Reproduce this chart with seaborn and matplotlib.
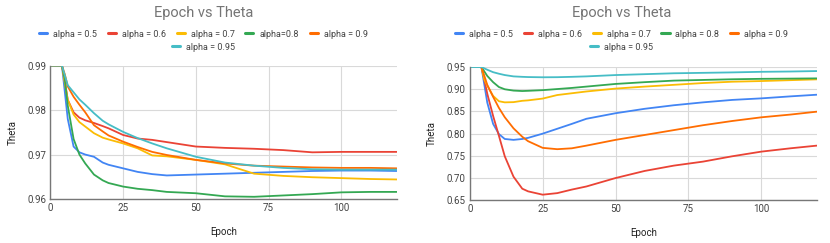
import matplotlib
matplotlib.use("Agg")
import matplotlib.pyplot as plt
from matplotlib.lines import Line2D
import seaborn as sns
import pandas as pd

# ---------------- data ----------------
epochs = [0, 4, 5, 6, 8, 10, 12, 15, 18, 20, 25, 30, 35, 40, 50, 60, 70, 80, 90, 100, 110, 119]

left_labels = ["alpha = 0.5", "alpha = 0.6", "alpha = 0.7", "alpha=0.8", "alpha = 0.9", "alpha = 0.95"]
right_labels = ["alpha = 0.5", "alpha = 0.6", "alpha = 0.7", "alpha = 0.8", "alpha = 0.9", "alpha = 0.95"]

left_a05 = [0.99, 0.99, 0.984, 0.978, 0.9718, 0.9705, 0.9700, 0.9695, 0.9682, 0.9677, 0.9669, 0.9661, 0.9656, 0.9653, 0.9655, 0.9657, 0.9659, 0.9661, 0.9663, 0.9664, 0.9664, 0.9663]
left_a06 = [0.99, 0.99, 0.9865, 0.9823, 0.9795, 0.9783, 0.9777, 0.9771, 0.9764, 0.9759, 0.9744, 0.9736, 0.9733, 0.9728, 0.9718, 0.9715, 0.9713, 0.9710, 0.9705, 0.9706, 0.9706, 0.9706]
left_a07 = [0.99, 0.99, 0.986, 0.9823, 0.979, 0.9773, 0.9763, 0.9748, 0.9738, 0.9734, 0.9725, 0.9714, 0.9698, 0.9696, 0.9688, 0.9678, 0.9657, 0.9652, 0.9649, 0.9647, 0.9645, 0.9644]
left_a08 = [0.99, 0.99, 0.9868, 0.981, 0.9735, 0.970, 0.968, 0.9655, 0.9642, 0.9636, 0.9628, 0.9623, 0.9620, 0.9616, 0.9613, 0.9606, 0.9605, 0.9608, 0.9611, 0.9615, 0.9616, 0.9616]
left_a09 = [0.99, 0.99, 0.988, 0.9853, 0.983, 0.9812, 0.9795, 0.9766, 0.9752, 0.9743, 0.9729, 0.9717, 0.9706, 0.9699, 0.9688, 0.9680, 0.9675, 0.9673, 0.9671, 0.9670, 0.9670, 0.9669]
left_a095 = [0.99, 0.99, 0.9878, 0.9856, 0.984, 0.9824, 0.9812, 0.9793, 0.9776, 0.9768, 0.9751, 0.9737, 0.9725, 0.9714, 0.9695, 0.9682, 0.9675, 0.9670, 0.9667, 0.9666, 0.9666, 0.9666]

right_a05 = [0.95, 0.95, 0.91, 0.87, 0.822, 0.799, 0.788, 0.786, 0.788, 0.7905, 0.800, 0.811, 0.822, 0.8335, 0.846, 0.856, 0.864, 0.8705, 0.876, 0.8795, 0.884, 0.8877]
right_a06 = [0.95, 0.95, 0.921, 0.89, 0.84, 0.795, 0.749, 0.703, 0.676, 0.670, 0.6625, 0.666, 0.674, 0.681, 0.700, 0.716, 0.728, 0.737, 0.749, 0.7595, 0.767, 0.773]
right_a07 = [0.95, 0.95, 0.922, 0.908, 0.885, 0.873, 0.8705, 0.871, 0.874, 0.875, 0.879, 0.887, 0.891, 0.895, 0.9015, 0.906, 0.910, 0.914, 0.917, 0.9185, 0.9205, 0.9223]
right_a08 = [0.95, 0.95, 0.94, 0.93, 0.916, 0.905, 0.900, 0.897, 0.896, 0.8965, 0.898, 0.9005, 0.903, 0.906, 0.912, 0.916, 0.9195, 0.921, 0.9225, 0.9235, 0.924, 0.9245]
right_a09 = [0.95, 0.95, 0.93, 0.91, 0.883, 0.858, 0.837, 0.812, 0.793, 0.783, 0.768, 0.765, 0.767, 0.773, 0.786, 0.797, 0.808, 0.819, 0.8285, 0.8368, 0.843, 0.8495]
right_a095 = [0.95, 0.95, 0.947, 0.944, 0.9385, 0.935, 0.932, 0.929, 0.928, 0.9275, 0.927, 0.9272, 0.928, 0.929, 0.932, 0.934, 0.936, 0.937, 0.938, 0.9393, 0.940, 0.941]

left_yticks = [0.96, 0.97, 0.98, 0.99]
right_yticks = [0.65, 0.70, 0.75, 0.80, 0.85, 0.90, 0.95]
xticks = [0, 25, 50, 75, 100]

colors = ["#4285F4", "#EA4335", "#FBBC04", "#34A853", "#FF6D01", "#46BDC6"]

# ---------------- style ----------------
sns.set_theme(style="white")
plt.rcParams["font.family"] = ["Roboto", "DejaVu Sans"]

fig = plt.figure(figsize=(8.3, 2.43), dpi=100)
ax1 = fig.add_axes([0.0606, 0.181, 0.4174, 0.549])
ax2 = fig.add_axes([0.566, 0.176, 0.418, 0.548])


def build(series, labels):
    rows = []
    for vals, lab in zip(series, labels):
        for e, v in zip(epochs, vals):
            rows.append({"Epoch": e, "Theta": v, "series": lab})
    return pd.DataFrame(rows)


def draw(ax, df, labels, yticks, ylim, cx):
    sns.lineplot(data=df, x="Epoch", y="Theta", hue="series", hue_order=labels,
                 palette=colors, ax=ax, legend=False, linewidth=1.3)
    ax.set_xlim(0, 119)
    ax.set_ylim(*ylim)
    ax.set_xticks(xticks)
    ax.set_yticks(yticks)
    ax.set_yticklabels([f"{t:.2f}" for t in yticks])
    ax.grid(True, color="#d9d9d9", linewidth=0.8)
    ax.set_axisbelow(True)
    for s in ["top", "right"]:
        ax.spines[s].set_visible(False)
    for s in ["left", "bottom"]:
        ax.spines[s].set_color("#777777")
        ax.spines[s].set_linewidth(1.0)
    ax.tick_params(axis="both", length=0, pad=3, labelsize=7, labelcolor="#444444")
    ax.set_xlabel("Epoch", fontsize=7, color="#222222", labelpad=10)
    ax.set_ylabel("Theta", fontsize=7, color="#222222", labelpad=7)

    fig.text(cx, 0.945, "Epoch vs Theta", ha="center", va="center",
             fontsize=10.5, color="#757575")
    handles = [Line2D([0], [0], color=c, lw=2.2) for c in colors]
    kw = dict(frameon=False, fontsize=6.5, handlelength=0.9, handletextpad=0.65,
              columnspacing=1.2, borderpad=0, borderaxespad=0, loc="center",
              labelcolor="#444444")
    fig.legend(handles[:5], labels[:5], ncol=5, bbox_to_anchor=(cx, 0.860), **kw)
    fig.legend(handles[5:], labels[5:], ncol=1, bbox_to_anchor=(cx, 0.806), **kw)


df_left = build([left_a05, left_a06, left_a07, left_a08, left_a09, left_a095], left_labels)
df_right = build([right_a05, right_a06, right_a07, right_a08, right_a09, right_a095], right_labels)

draw(ax1, df_left, left_labels, left_yticks, (0.96, 0.99), 0.245)
draw(ax2, df_right, right_labels, right_yticks, (0.65, 0.95), 0.749)

fig.savefig("out.png", dpi=100)
